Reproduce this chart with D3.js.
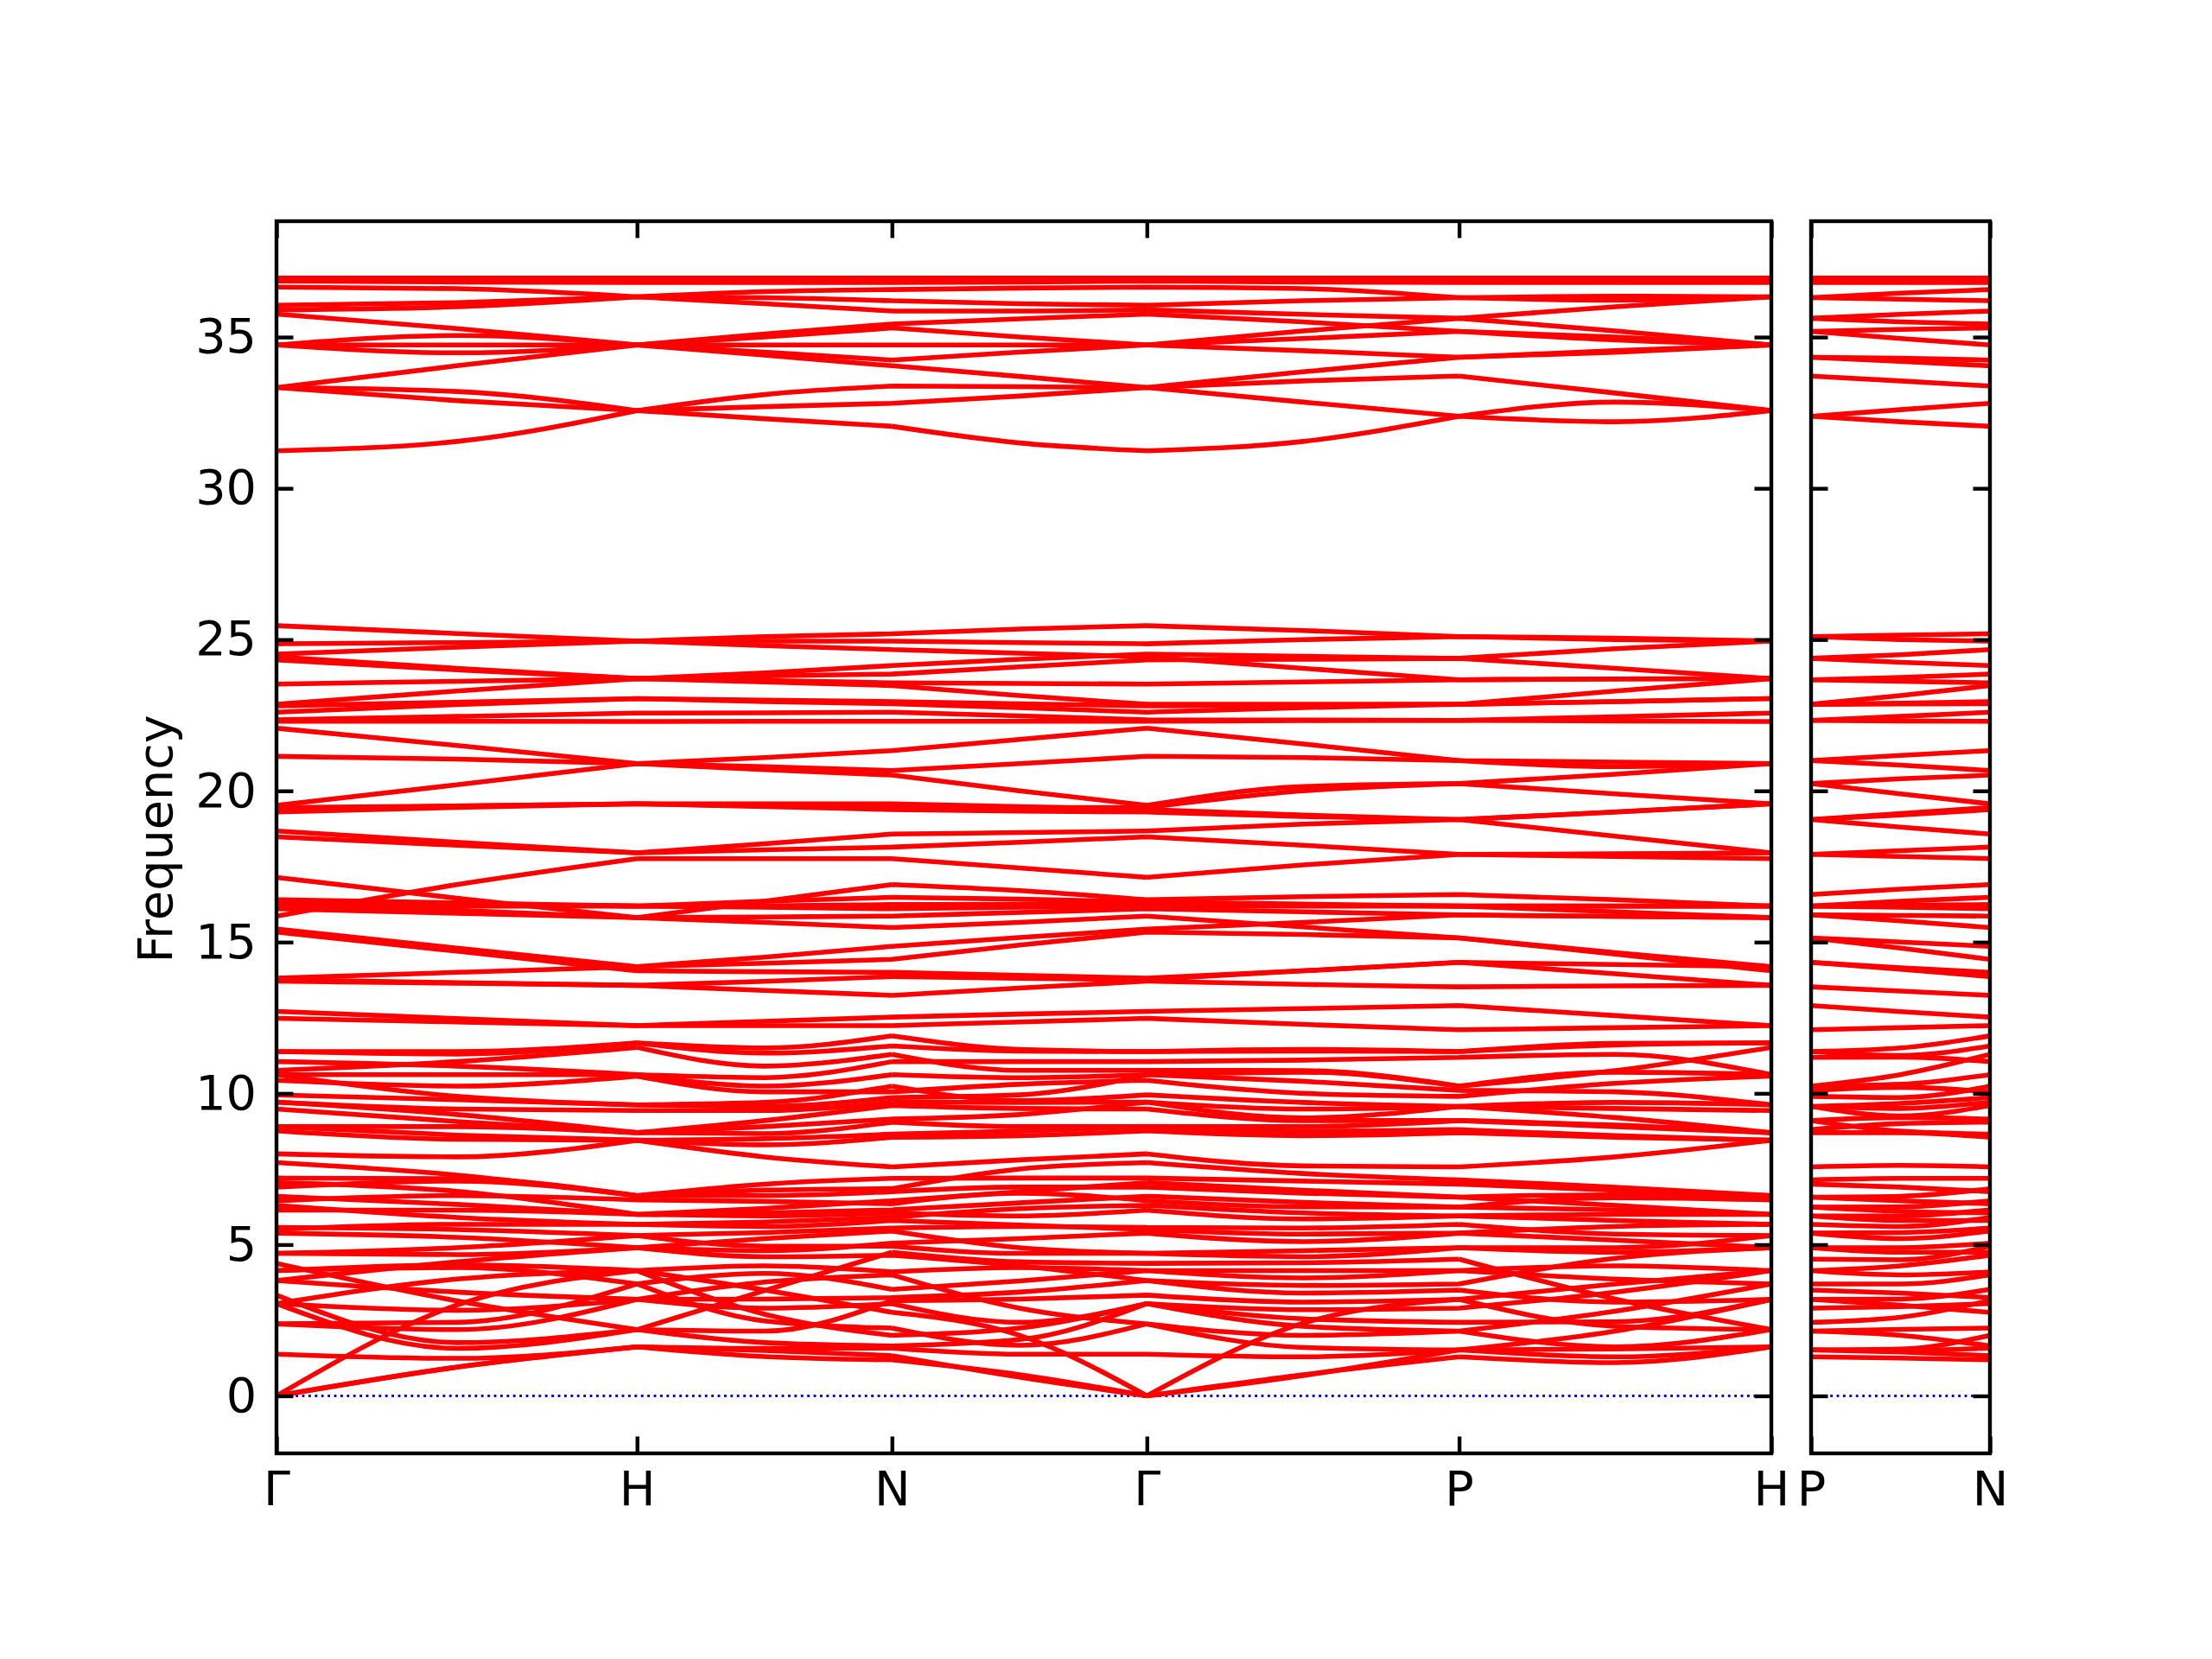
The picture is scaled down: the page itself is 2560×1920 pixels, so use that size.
<!DOCTYPE html>
<html>
<head>
<meta charset="utf-8">
<script src="https://cdn.jsdelivr.net/npm/d3@7"></script>
<style>
  body { margin: 0; background: #fff; }
  text { font-family: "DejaVu Sans", sans-serif; }
</style>
</head>
<body>
<div id="chart"></div>
<script>
// high-symmetry path Γ-H-N-Γ-P-H | P-N (bcc), distances in 2π/a
var nodeX = [0, 1, 1.7071, 2.4142, 3.2802, 4.1463];
var nodeLabels = ["Γ", "H", "N", "Γ", "P", "H"];
var pnX = [0, 0.25, 0.5];
var pnLabels = ["P", "N"];
var yTicks = [0, 5, 10, 15, 20, 25, 30, 35];

// bands read at [Γ, mid, H, mid, N, mid, Γ, mid, P, mid, H]
var bandsTop = [
  [36.95,36.95,36.95,36.95,36.95,36.95,36.95,36.95,36.95,36.95,36.95],
  [36.90,36.91,36.92,36.91,36.90,36.90,36.90,36.91,36.92,36.92,36.92],
  [36.88,36.86,36.85,36.85,36.85,36.86,36.88,36.87,36.86,36.86,36.85],
  [36.85,36.82,36.80,36.80,36.80,36.82,36.85,36.82,36.80,36.80,36.80],
  [36.65,36.60,36.33,36.50,36.57,36.62,36.65,36.60,36.30,36.35,36.33],
  [36.05,36.14,36.33,36.30,36.20,36.10,36.05,36.20,36.30,36.22,36.33],
  [35.90,36.00,36.33,36.10,35.86,35.86,35.90,35.75,35.62,36.00,36.33],
  [35.76,35.28,34.74,35.10,35.43,35.60,35.76,35.50,35.19,35.00,34.74],
  [34.74,35.05,34.74,35.00,35.30,35.00,34.74,35.20,35.62,35.20,34.74],
  [34.74,34.74,34.74,34.74,34.74,34.74,34.74,34.95,35.19,34.90,34.74],
  [34.74,34.48,34.74,34.50,34.24,34.50,34.74,34.55,34.33,34.55,34.74],
  [33.33,34.05,34.74,34.40,34.05,33.70,33.33,33.85,34.33,34.50,34.74],
  [33.33,33.20,32.57,33.10,33.38,33.36,33.33,33.55,33.71,33.15,32.57],
  [33.33,32.90,32.57,32.70,32.81,33.05,33.33,32.85,32.38,32.85,32.57],
  [31.24,31.55,32.57,32.30,32.05,31.50,31.24,31.55,32.38,32.20,32.57]
];
// same bands on P-N: [P, mid, N]
var pnTop = [
  [36.95,36.95,36.95],[36.92,36.91,36.90],[36.86,36.85,36.85],[36.80,36.80,36.80],
  [36.30,36.45,36.57],[36.30,36.25,36.20],[35.62,35.75,35.86],[35.19,35.25,35.30],
  [35.62,35.50,35.43],[35.19,34.95,34.74],[34.33,34.30,34.24],[34.33,34.20,34.05],
  [33.71,33.55,33.38],[32.38,32.60,32.81],[32.38,32.20,32.05]
];

var bandsMid = [
  [25.46,25.20,24.95,25.10,25.19,25.35,25.46,25.30,25.10,25.00,24.95],
  [24.86,24.90,24.95,24.95,24.95,24.90,24.86,25.00,25.10,25.05,24.95],
  [24.52,24.75,24.95,24.80,24.67,24.55,24.43,24.05,23.67,23.70,23.71],
  [24.43,24.05,23.71,23.90,24.14,24.35,24.52,24.45,24.38,24.70,24.95],
  [24.33,24.00,23.71,23.80,23.86,24.10,24.33,24.35,24.38,24.05,23.71],
  [23.53,23.62,23.71,23.65,23.57,23.55,23.53,23.60,23.67,23.70,23.71],
  [22.86,23.30,23.71,23.60,23.48,23.15,22.86,22.86,22.86,23.30,23.71],
  [22.81,22.93,23.05,23.00,22.95,22.88,22.81,22.83,22.86,22.95,23.05],
  [22.60,22.85,23.05,22.95,22.88,22.75,22.60,22.75,22.86,22.95,23.05],
  [22.35,22.46,22.57,22.58,22.60,22.48,22.35,22.34,22.33,22.45,22.57],
  [22.30,22.30,22.29,22.30,22.30,22.30,22.30,22.32,22.33,22.31,22.29],
  [22.07,21.50,20.90,21.10,21.33,21.70,22.07,21.55,21.00,20.95,20.90],
  [21.14,21.05,20.90,20.80,20.67,20.90,21.14,21.10,21.00,20.80,20.90],
  [19.52,20.20,20.90,20.70,20.52,20.00,19.52,20.14,20.24,20.55,20.90],
  [19.45,19.50,19.57,19.50,19.45,19.45,19.45,20.00,20.24,19.90,19.57],
  [19.38,19.50,19.57,19.57,19.57,19.48,19.38,19.20,19.05,19.30,19.57],
  [19.30,19.45,19.57,19.48,19.38,19.33,19.30,19.15,19.05,19.30,19.57],
  [18.67,18.30,17.95,18.25,18.57,18.62,18.67,18.90,19.05,18.50,17.95],
  [18.48,18.20,17.95,18.05,18.14,18.30,18.48,18.20,17.90,17.92,17.95],
  [17.14,16.45,15.81,15.65,15.48,15.65,15.86,15.50,15.14,14.65,14.19]
];
var pnMid = [
  [25.10,25.15,25.19],[25.10,25.00,24.95],[23.67,23.75,23.86],[24.38,24.50,24.67],
  [24.38,24.25,24.14],[23.67,23.62,23.57],[22.86,23.15,23.48],[22.86,22.90,22.95],
  [22.86,22.87,22.88],[22.33,22.46,22.60],[22.33,22.31,22.30],[21.00,21.17,21.33],
  [21.00,20.85,20.67],[20.24,20.40,20.52],[20.24,19.90,19.57],[19.05,19.25,19.45],
  [19.05,19.20,19.38],[19.05,18.80,18.57],[17.90,18.02,18.14],[15.14,15.00,14.86]
];

var bandsLow = [
  [16.40,16.30,16.19,16.20,16.24,16.25,16.26,16.22,16.19,16.19,16.19],
  [16.33,16.26,16.19,16.15,16.10,16.15,16.19,16.19,16.19,16.00,15.81],
  [16.26,16.05,15.81,16.35,16.90,16.70,16.40,16.50,16.57,16.40,16.19],
  [16.19,16.19,16.19,16.35,16.48,16.42,16.33,16.26,16.19,16.19,16.19],
  [16.10,15.95,15.81,15.83,15.86,15.98,16.10,16.00,15.90,15.85,15.81],
  [15.86,16.90,17.76,17.76,17.76,17.45,17.14,17.55,17.90,17.83,17.76],
  [15.43,14.80,14.19,14.50,14.86,15.15,15.43,15.65,15.90,15.85,15.81],
  [15.33,14.70,14.05,14.02,14.00,13.90,13.81,14.05,14.33,14.26,14.19],
  [13.81,14.00,14.19,14.30,14.43,14.90,15.33,15.25,15.14,14.60,14.05],
  [13.76,13.66,13.57,13.70,13.86,13.80,13.76,14.05,14.33,13.95,13.57],
  [13.71,13.64,13.57,13.40,13.24,13.48,13.71,13.60,13.52,13.55,13.57],
  [12.71,12.47,12.24,12.38,12.52,12.62,12.71,12.80,12.90,12.57,12.24],
  [12.48,12.36,12.24,12.24,12.24,12.36,12.48,12.28,12.10,12.17,12.24]
];
var pnLow = [
  [16.19,16.22,16.24],[16.19,16.15,16.10],[16.57,16.75,16.90],[16.19,16.35,16.48],
  [15.90,15.88,15.86],[17.90,17.83,17.76],[15.90,15.70,15.48],[14.33,14.15,14.00],
  [15.14,14.80,14.43],[14.33,14.10,13.86],[13.52,13.38,13.24],[12.90,12.70,12.52],
  [12.10,12.17,12.24]
];

// acoustic branches
var bandsAcoustic = [
  [0, 0.95, 1.62, 1.50, 1.33, 0.62, 0, 0.67, 1.52, 1.55, 1.62],
  [0, 0.95, 1.62, 1.30, 1.19, 0.70, 0, 0.70, 1.29, 1.10, 1.62],
  [0, 3.00, 4.14, 3.50, 2.76, 2.00, 0, 2.40, 3.19, 3.70, 4.14]
];
var pnAcoustic = [[1.52, 1.45, 1.33], [1.29, 1.25, 1.19], [3.19, 3.00, 2.76]];

// dense optical block below 12, read column by column (ascending)
var lowG  = [1.38,2.38,2.38,3.05,3.05,3.05,3.33,3.81,3.81,4.14,4.14,4.38,4.71,4.71,5.38,5.5,5.57,6.14,6.3,6.45,6.6,6.9,7.05,7.2,7.71,8.0,8.76,8.9,8.9,9.48,9.71,9.71,9.95,10.43,10.62,10.62,10.76,11.05,11.38,11.38];
var lowM1 = [1.24,1.57,1.76,2.19,2.43,2.83,3.14,3.43,3.86,4.24,4.33,4.43,4.67,4.9,5.24,5.5,5.67,5.9,6.14,6.33,6.62,6.76,7.1,7.18,7.3,7.9,8.48,8.62,8.9,9.07,9.3,9.48,9.79,9.9,10.24,10.62,10.9,11.05,11.3,11.38];
var lowH  = [1.62,2.19,2.19,2.19,3.19,3.19,3.19,3.7,3.7,4.14,4.14,4.9,4.9,4.9,5.3,5.3,5.67,5.67,6.0,6.0,6.0,6.48,6.62,6.62,6.62,8.45,8.45,8.45,8.7,8.7,8.7,9.43,9.62,9.62,10.57,10.62,10.62,11.52,11.67,11.67];
var lowM2 = [1.57,1.76,2.14,2.48,2.7,2.9,3.2,3.48,3.76,4.05,4.3,4.6,4.8,4.95,5.2,5.4,5.6,5.75,5.95,6.05,6.2,6.43,6.62,6.8,7.0,7.9,8.3,8.5,8.67,8.9,9.1,9.43,9.57,9.7,10.05,10.24,10.52,10.9,11.33,11.5];
var lowN  = [1.58,1.65,2.0,2.24,3.05,3.15,3.25,3.52,4.0,4.1,4.65,4.75,4.95,5.05,5.45,5.55,5.8,5.9,6.05,6.15,6.35,6.45,6.75,6.85,7.19,7.57,8.55,8.65,9.05,9.15,9.6,9.71,9.86,10.05,10.24,10.62,11.05,11.29,11.57,11.9];
var lowM3 = [1.38,1.67,1.86,2.24,2.43,2.9,3.2,3.43,3.8,4.24,4.3,4.43,4.71,4.9,5.2,5.6,5.65,5.95,6.19,6.38,6.7,6.75,6.9,7.2,7.5,7.8,8.6,8.75,8.9,9.3,9.5,9.7,9.76,9.95,10.3,10.52,10.76,11.05,11.4,11.45];
var lowM4 = [1.29,1.6,2.0,2.3,2.55,2.85,3.1,3.4,3.65,3.9,4.14,4.4,4.6,4.8,5.1,5.35,5.55,5.85,6.05,6.25,6.4,6.7,6.8,7.1,7.35,7.6,8.6,8.75,8.9,9.1,9.19,9.48,9.7,10.0,10.4,10.7,10.75,11.1,11.4,11.45];
var lowP  = [1.52,1.52,2.14,2.14,2.43,2.9,3.19,3.5,3.7,4.14,4.14,4.52,4.9,4.9,5.38,5.38,5.67,5.95,5.95,6.24,6.24,6.57,6.57,7.0,7.14,7.57,8.7,8.8,9.1,9.1,9.57,9.57,9.57,9.9,10.1,10.24,10.24,11.19,11.38,11.38];
var lowM5 = [1.29,1.62,2.14,2.3,2.45,2.8,3.1,3.2,3.43,3.86,4.3,4.55,4.75,4.9,5.15,5.35,5.6,5.8,6.0,6.15,6.3,6.55,6.65,6.8,6.9,7.9,8.55,8.6,8.9,8.95,9.2,9.5,9.7,10.05,10.33,10.7,10.75,11.29,11.6,11.65];
var lowPM = [1.5,1.55,2.0,2.2,2.6,2.95,3.2,3.4,3.7,4.0,4.3,4.5,4.75,4.9,5.2,5.4,5.6,5.8,5.95,6.1,6.25,6.45,6.6,6.9,7.19,7.62,8.7,8.75,9.0,9.2,9.25,9.5,9.67,9.86,10.2,10.3,10.62,11.2,11.25,11.5];
// which H / N value each low band (by its Γ / P rank) passes through: the crossings seen in the tangle
var lowHOrder  = [0,4,7,2,5,9,3,6,11,8,10,1,14,12,13,16,15,18,17,21,19,22,20,23,24,25,26,27,28,29,30,31,32,34,33,35,37,36,38,39];
var lowNOrder  = [0,8,3,1,4,2,5,6,10,7,9,11,12,14,13,16,15,18,17,20,19,22,21,24,23,25,26,27,28,30,29,31,34,33,32,35,37,36,38,39];
var lowPNOrder = [0,2,1,3,5,4,7,6,8,10,9,12,11,13,15,14,17,16,19,18,21,20,23,22,24,25,26,28,27,29,31,30,32,34,33,35,37,36,38,39];

// assemble
var bandsMain = bandsTop.concat(bandsMid, bandsLow, bandsAcoustic);
var bandsPN = pnTop.concat(pnMid, pnLow, pnAcoustic);

// read mid values are handed to the crossing bands in order of where each band sits
function pairMids(a, b, midCol) {
  var order = d3.range(a.length).sort(function(i, j) { return (a[i] + b[i]) - (a[j] + b[j]) || i - j; });
  var out = [];
  order.forEach(function(band, r) { out[band] = midCol[r]; });
  return out;
}
function pick(col, order) {
  return order.map(function(i) { return col[i]; });
}
var lG = lowG,
    lH = pick(lowH, lowHOrder),
    lN = pick(lowN, lowNOrder),
    lP = lowP,
    pnN = pick(lowN, lowPNOrder);
var m1 = pairMids(lG, lH, lowM1),
    m2 = pairMids(lH, lN, lowM2),
    m3 = pairMids(lN, lG, lowM3),
    m4 = pairMids(lG, lP, lowM4),
    m5 = pairMids(lP, lH, lowM5),
    pm = pairMids(lP, pnN, lowPM);
lowG.forEach(function(v, k) {
  bandsMain.push([lG[k], m1[k], lH[k], m2[k], lN[k], m3[k], lG[k], m4[k], lP[k], m5[k], lH[k]]);
  bandsPN.push([lP[k], pm[k], pnN[k]]);
});

// sample positions: node, midpoint, node ...
var sampleX = [];
nodeX.forEach(function(d, i) {
  if (i > 0) sampleX.push((nodeX[i - 1] + d) / 2);
  sampleX.push(d);
});

var W = 2560, Hh = 1920,
    plotTop = 256, plotBottom = 1682,
    lw = 5.56, axisW = 4.4, tickLen = 19.5, fs = 55.6;

var svg = d3.select("#chart").append("svg")
    .attr("width", W)
    .attr("height", Hh)
    .style("background", "#fff");

var y = d3.scaleLinear().domain([-1.9, 38.83]).range([plotBottom, plotTop]);
var x1 = d3.scaleLinear().domain([0, nodeX[nodeX.length - 1]]).range([320, 2050]);
var x2 = d3.scaleLinear().domain([0, 0.5]).range([2096, 2303]);

var defs = svg.append("defs");
defs.append("clipPath").attr("id", "clip1").append("rect")
    .attr("x", 320).attr("y", plotTop).attr("width", 1730).attr("height", plotBottom - plotTop);
defs.append("clipPath").attr("id", "clip2").append("rect")
    .attr("x", 2096).attr("y", plotTop).attr("width", 207).attr("height", plotBottom - plotTop);

function segPath(xs, vals, xScale) {
  var line = d3.line()
      .x(function(d) { return xScale(d[0]); })
      .y(function(d) { return y(d[1]); })
      .curve(d3.curveMonotoneX);
  var d = "";
  for (var s = 0; s + 2 < vals.length; s += 2) {
    d += line([[xs[s], vals[s]], [xs[s + 1], vals[s + 1]], [xs[s + 2], vals[s + 2]]]);
  }
  return d;
}

var g1 = svg.append("g").attr("clip-path", "url(#clip1)");
var g2 = svg.append("g").attr("clip-path", "url(#clip2)");

// zero line
g1.append("line")
    .attr("x1", 320).attr("x2", 2050).attr("y1", y(0)).attr("y2", y(0))
    .attr("stroke", "blue").attr("stroke-width", 2.8).attr("stroke-dasharray", "2.8,4.6");
g2.append("line")
    .attr("x1", 2096).attr("x2", 2303).attr("y1", y(0)).attr("y2", y(0))
    .attr("stroke", "blue").attr("stroke-width", 2.8).attr("stroke-dasharray", "2.8,4.6");

g1.selectAll("path.band")
    .data(bandsMain)
    .enter()
  .append("path")
    .attr("class", "band")
    .attr("d", function(d) { return segPath(sampleX, d, x1); })
    .attr("fill", "none")
    .attr("stroke", "red")
    .attr("stroke-width", lw)
    .attr("stroke-linejoin", "round");

g2.selectAll("path.band")
    .data(bandsPN)
    .enter()
  .append("path")
    .attr("class", "band")
    .attr("d", function(d) { return segPath(pnX, d, x2); })
    .attr("fill", "none")
    .attr("stroke", "red")
    .attr("stroke-width", lw)
    .attr("stroke-linejoin", "round");

// axes
function styleAxis(g) {
  g.select(".domain").remove();
  g.selectAll("line").attr("stroke", "#000").attr("stroke-width", axisW);
  g.selectAll("text").attr("font-size", fs).attr("fill", "#000")
    .style("font-family", "'DejaVu Sans', sans-serif");
}

svg.append("g").attr("transform", "translate(320,0)")
    .call(d3.axisLeft(y).tickValues(yTicks).tickSize(-tickLen).tickPadding(23))
    .call(styleAxis);
svg.append("g").attr("transform", "translate(2050,0)")
    .call(d3.axisRight(y).tickValues(yTicks).tickSize(-tickLen).tickFormat(""))
    .call(styleAxis);
svg.append("g").attr("transform", "translate(2096,0)")
    .call(d3.axisLeft(y).tickValues(yTicks).tickSize(-tickLen).tickFormat(""))
    .call(styleAxis);
svg.append("g").attr("transform", "translate(2303,0)")
    .call(d3.axisRight(y).tickValues(yTicks).tickSize(-tickLen).tickFormat(""))
    .call(styleAxis);

svg.append("g").attr("transform", "translate(0," + plotBottom + ")")
    .call(d3.axisBottom(x1).tickValues(nodeX).tickSize(-tickLen).tickPadding(20.5)
      .tickFormat(function(d, i) { return nodeLabels[i]; }))
    .call(styleAxis);
svg.append("g").attr("transform", "translate(0," + plotTop + ")")
    .call(d3.axisTop(x1).tickValues(nodeX).tickSize(-tickLen).tickFormat(""))
    .call(styleAxis);
svg.append("g").attr("transform", "translate(0," + plotBottom + ")")
    .call(d3.axisBottom(x2).tickValues([0, 0.5]).tickSize(-tickLen).tickPadding(20.5)
      .tickFormat(function(d, i) { return pnLabels[i]; }))
    .call(styleAxis);
svg.append("g").attr("transform", "translate(0," + plotTop + ")")
    .call(d3.axisTop(x2).tickValues([0, 0.5]).tickSize(-tickLen).tickFormat(""))
    .call(styleAxis);

// frames
svg.append("rect")
    .attr("x", 320).attr("y", plotTop).attr("width", 1730).attr("height", plotBottom - plotTop)
    .attr("fill", "none").attr("stroke", "#000").attr("stroke-width", axisW);
svg.append("rect")
    .attr("x", 2096).attr("y", plotTop).attr("width", 207).attr("height", plotBottom - plotTop)
    .attr("fill", "none").attr("stroke", "#000").attr("stroke-width", axisW);

svg.append("text")
    .attr("transform", "translate(199,971) rotate(-90)")
    .attr("text-anchor", "middle")
    .attr("font-size", fs)
    .text("Frequency");
</script>
</body>
</html>
